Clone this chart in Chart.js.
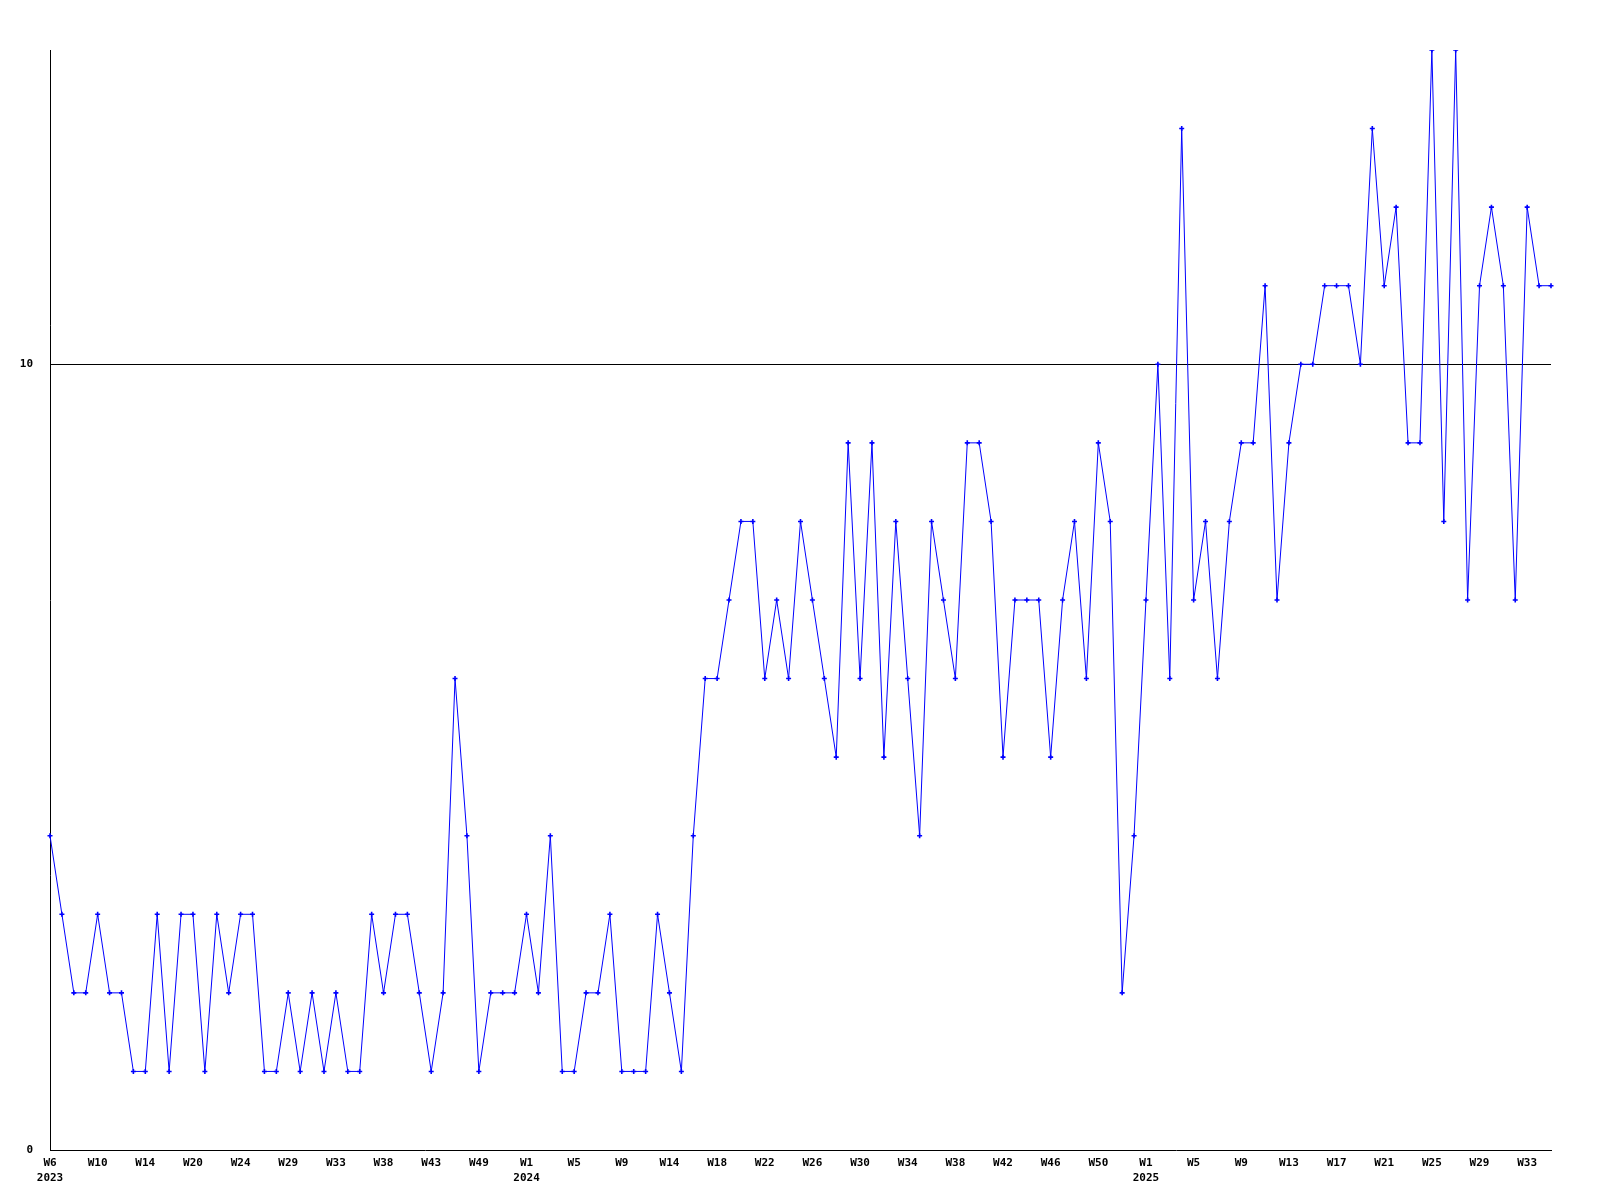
<!DOCTYPE html>
<html>
<head>
<meta charset="UTF-8">
<title>Weekly count</title>
<script src="https://cdn.jsdelivr.net/npm/chart.js"></script>
<style>
    html, body { margin: 0; padding: 0; background: #fff; }
    canvas { display: block; }
</style>
</head>
<body>
<canvas id="weekChart" width="1600" height="1200"></canvas>
<script>
    // week numbers present in the data, per year (some weeks have no entry)
    const weeks2023 = [6, 7, 8, 9, 10, 11, 12, 13, 14, 16, 17, 19, 20, 21, 22, 23, 24, 25, 26, 28,
        29, 30, 31, 32, 33, 34, 35, 37, 38, 39, 40, 42, 43, 44, 46, 47, 49, 50, 51, 52];
    const weeks2024 = [1, 2, 3, 4, 5, 6, 7, 8, 9, 10, 11, 13, 14, 15, 16, 17, 18, 19, 20, 21,
        22, 23, 24, 25, 26, 27, 28, 29, 30, 31, 32, 33, 34, 35, 36, 37, 38, 39, 40, 41,
        42, 43, 44, 45, 46, 47, 48, 49, 50, 51, 52, 53];
    const weeks2025 = [1, 2, 3, 4, 5, 6, 7, 8, 9, 10, 11, 12, 13, 14, 15, 16, 17, 18, 19, 20,
        21, 22, 23, 24, 25, 26, 27, 28, 29, 30, 31, 32, 33, 34, 35];
    const years = ['2023', '2024', '2025'];

    const counts = [
        4, 3, 2, 2, 3, 2, 2, 1, 1, 3, 1, 3, 3, 1, 3, 2, 3, 3, 1, 1,
        2, 1, 2, 1, 2, 1, 1, 3, 2, 3, 3, 2, 1, 2, 6, 4, 1, 2, 2, 2,
        3, 2, 4, 1, 1, 2, 2, 3, 1, 1, 1, 3, 2, 1, 4, 6, 6, 7, 8, 8,
        6, 7, 6, 8, 7, 6, 5, 9, 6, 9, 5, 8, 6, 4, 8, 7, 6, 9, 9, 8,
        5, 7, 7, 7, 5, 7, 8, 6, 9, 8, 2, 4, 7, 10, 6, 13, 7, 8, 6, 8,
        9, 9, 11, 7, 9, 10, 10, 11, 11, 11, 10, 13, 11, 12, 9, 9, 14, 8, 14, 7,
        11, 12, 11, 7, 12, 11, 11
    ];

    const yTicks = [0, 10];
    const labelEvery = 4;

    // build category labels, remember where each year starts
    const labels = [];
    const yearAt = {};
    [weeks2023, weeks2024, weeks2025].forEach((wk, i) => {
        yearAt[labels.length] = years[i];
        wk.forEach(w => labels.push('W' + w));
    });

    const font = { family: '"DejaVu Sans Mono", monospace', size: 11, weight: 'bold', lineHeight: 1.35 };

    const ctx = document.getElementById('weekChart').getContext('2d');
    new Chart(ctx, {
        type: 'line',
        data: {
            labels: labels,
            datasets: [{
                data: counts,
                borderColor: '#0000ff',
                backgroundColor: '#0000ff',
                borderWidth: 1,
                pointStyle: 'cross',
                pointRadius: 2.5,
                pointBorderWidth: 1.6,
                pointHoverRadius: 3,
                tension: 0,
                fill: false
            }]
        },
        options: {
            responsive: false,
            animation: false,
            layout: { padding: { top: 50, right: 49, left: 0, bottom: 0 } },
            plugins: {
                legend: { display: false },
                title: { display: false },
                tooltip: { enabled: false }
            },
            scales: {
                x: {
                    type: 'category',
                    offset: false,
                    grid: { display: false, drawTicks: false },
                    border: { display: true, color: '#000', width: 1 },
                    ticks: {
                        autoSkip: false,
                        maxRotation: 0,
                        minRotation: 0,
                        padding: 6,
                        color: '#000',
                        font: font,
                        callback: function (val, i) {
                            if (i % labelEvery !== 0) return '';
                            const lab = this.getLabelForValue(val);
                            return yearAt[i] ? [lab, yearAt[i]] : lab;
                        }
                    },
                    afterFit: s => { s.height = 50; }
                },
                y: {
                    min: 0,
                    max: 14,
                    grid: {
                        drawTicks: false,
                        color: c => (c.tick && c.tick.value === 10) ? '#000' : 'rgba(0,0,0,0)',
                        lineWidth: 1
                    },
                    border: { display: true, color: '#000', width: 1 },
                    ticks: {
                        stepSize: 10,
                        padding: 17,
                        color: '#000',
                        font: font
                    },
                    afterBuildTicks: s => { s.ticks = yTicks.map(v => ({ value: v })); },
                    afterFit: s => { s.width = 50; }
                }
            }
        }
    });
</script>
</body>
</html>
